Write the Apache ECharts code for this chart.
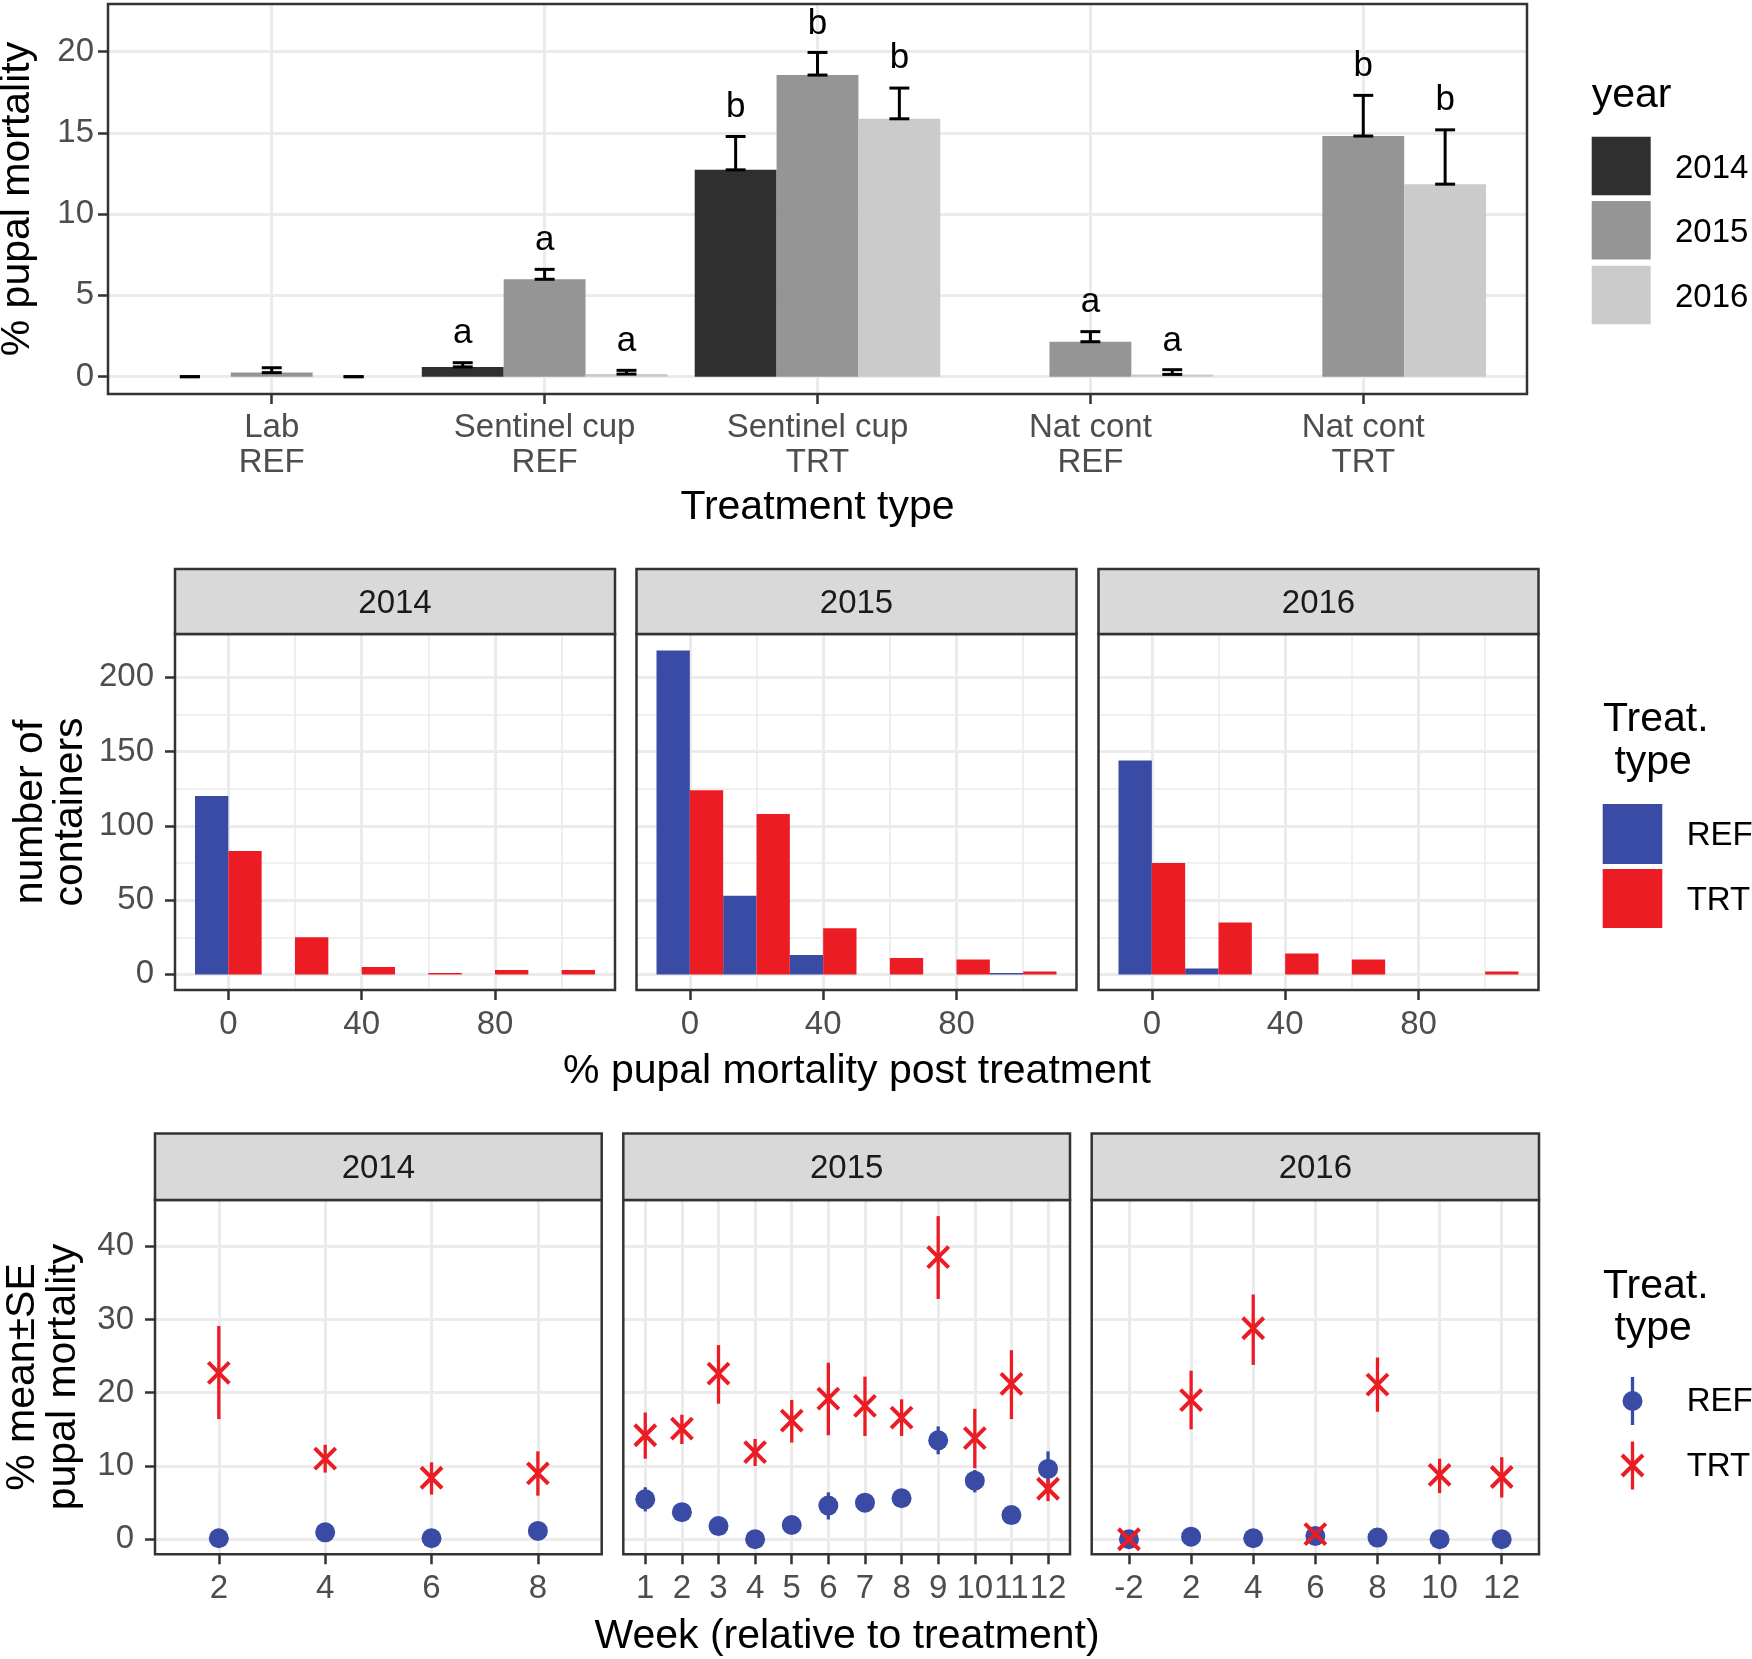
<!DOCTYPE html>
<html><head><meta charset="utf-8">
<script src="https://cdn.jsdelivr.net/npm/echarts@6.0.0/dist/echarts.min.js"></script>
<style>html,body{margin:0;padding:0;background:#fff}#c{width:1752px;height:1659px}</style>
</head><body><div id="c"></div>
<script>
// ---------------- DATA ----------------
// Panel A: mean % pupal mortality by treatment type and year (bar + upper SE)
const treatmentTypes = ['Lab\nREF', 'Sentinel cup\nREF', 'Sentinel cup\nTRT', 'Nat cont\nREF', 'Nat cont\nTRT'];
const barYears = ['2014', '2015', '2016'];
const barMean2014 = [0, 0.6, 12.72, null, null];
const barUpper2014 = [0, 0.86, 14.77, null, null];
const barMean2015 = [0.25, 5.99, 18.55, 2.15, 14.8];
const barUpper2015 = [0.55, 6.6, 19.94, 2.77, 17.3];
const barMean2016 = [0, 0.16, 15.86, 0.14, 11.84];
const barUpper2016 = [0, 0.39, 17.75, 0.43, 15.18];
const letters2014 = [null, 'a', 'b', null, null];
const letterPos2014 = [null, 2.64, 16.54, null, null];
const letters2015 = [null, 'a', 'b', 'a', 'b'];
const letterPos2015 = [null, 8.38, 21.67, 4.58, 19.1];
const letters2016 = [null, 'a', 'b', 'a', 'b'];
const letterPos2016 = [null, 2.17, 19.56, 2.18, 17.0];
const barTicks = [0, 5, 10, 15, 20];

// Panel B: histogram of containers by % pupal mortality (bins of width 20)
const histBins = [0, 20, 40, 60, 80, 100];
const histTicks = [0, 40, 80];
const histMinorTicks = [20, 60, 100];
const countTicks = [0, 50, 100, 150, 200];
const countMinorTicks = [25, 75, 125, 175];
const histRef2014 = [120, 0, 0, 0, 0, 0];
const histTrt2014 = [83, 25, 5, 1, 3, 3];
const histRef2015 = [218, 53, 13, 0, 0, 1];
const histTrt2015 = [124, 108, 31, 11, 10, 2];
const histRef2016 = [144, 4, 0, 0, 0, 0];
const histTrt2016 = [75, 35, 14, 10, 0, 2];

// Panel C: weekly mean ± SE % pupal mortality
const mortTicks = [0, 10, 20, 30, 40];
const weeks2014 = ['2', '4', '6', '8'];
const ref2014 = [0.14, 0.95, 0.14, 1.14];
const ref2014Lo = [null, null, null, null];
const ref2014Hi = [null, null, null, null];
const trt2014 = [22.7, 11.0, 8.4, 9.0];
const trt2014Lo = [16.4, 9.1, 6.1, 5.95];
const trt2014Hi = [29.1, 12.9, 10.5, 12.0];

const weeks2015 = ['1', '2', '3', '4', '5', '6', '7', '8', '9', '10', '11', '12'];
const ref2015 = [5.45, 3.7, 1.8, 0, 1.95, 4.6, 5.0, 5.6, 13.5, 8.0, 3.3, 9.6];
const ref2015Lo = [3.8, null, null, null, null, 2.7, null, null, 11.6, 6.4, null, 7.4];
const ref2015Hi = [7.1, null, null, null, null, 6.4, null, null, 15.4, 9.45, null, 12.0];
const trt2015 = [14.2, 15.1, 22.6, 11.9, 16.2, 19.2, 18.2, 16.6, 38.5, 13.8, 21.2, 6.9];
const trt2015Lo = [11.0, 13.0, 18.5, 10.0, 13.2, 14.2, 14.1, 14.1, 32.8, 9.7, 16.4, 5.2];
const trt2015Hi = [17.3, 17.0, 26.5, 13.7, 19.0, 24.1, 22.2, 19.1, 44.1, 17.8, 25.8, 8.3];

const weeks2016 = ['-2', '2', '4', '6', '8', '10', '12'];
const ref2016 = [0, 0.36, 0.14, 0.45, 0.23, 0, 0];
const ref2016Lo = [null, null, null, null, null, null, null];
const ref2016Hi = [null, null, null, null, null, null, null];
const trt2016 = [0, 19.0, 28.8, 0.7, 21.1, 8.8, 8.5];
const trt2016Lo = [null, 15.0, 23.8, null, 17.4, 6.3, 5.7];
const trt2016Hi = [null, 23.0, 33.4, null, 24.8, 11.0, 11.2];

// ---------------- STYLE ----------------
const FONT = "'Liberation Sans', Arial, Helvetica, sans-serif";
const GRID_COL = '#EBEBEB';
const DARK = '#333333';
const LABEL_COL = '#4D4D4D';
const BLUE = '#3A4BA6';
const RED = '#EC1C24';
const YEAR_COL = ['#2F2F2F', '#959595', '#CBCBCB'];
const STRIP_FILL = '#D9D9D9';

const grids = [], xAxes = [], yAxes = [], series = [], graphics = [];

function txt(x, y, text, size, color, extra) {
  return Object.assign({
    type: 'text', x: x, y: y, z: 120,
    style: { text: text, fontSize: size, fontFamily: FONT, fill: color,
      align: 'center', verticalAlign: 'middle', textAlign: 'center', textVerticalAlign: 'middle' }
  }, extra || {});
}

function addPanel(rect, xr, yr, xTicks, yTicks, o) {
  const gi = grids.length;
  grids.push({ left: rect[0], top: rect[1], width: rect[2], height: rect[3], containLabel: false });
  const xi = xAxes.length;
  xAxes.push({
    type: 'value', gridIndex: gi, min: xr[0], max: xr[1], position: 'bottom',
    axisLine: { show: false, onZero: false },
    axisTick: { show: true, customValues: xTicks, length: 10, lineStyle: { color: DARK, width: 2.5 } },
    axisLabel: { show: true, customValues: xTicks, formatter: o.xFmt, color: LABEL_COL, fontSize: 33,
      fontFamily: FONT, margin: o.xMargin, lineHeight: o.xLineHeight },
    splitLine: { show: true, lineStyle: { color: GRID_COL, width: 3 } }
  });
  if (o.xMinor) {
    xAxes.push({
      type: 'value', gridIndex: gi, min: xr[0], max: xr[1], position: 'top',
      axisLine: { show: false, onZero: false },
      axisTick: { show: false, customValues: o.xMinor },
      axisLabel: { show: false, customValues: o.xMinor },
      splitLine: { show: true, lineStyle: { color: GRID_COL, width: 1.6 } }
    });
  }
  const yi = yAxes.length;
  yAxes.push({
    type: 'value', gridIndex: gi, min: yr[0], max: yr[1], position: 'left',
    axisLine: { show: false, onZero: false },
    axisTick: { show: o.yLabels, customValues: yTicks, length: 10, lineStyle: { color: DARK, width: 2.5 } },
    axisLabel: { show: o.yLabels, customValues: yTicks, color: LABEL_COL, fontSize: 33, fontFamily: FONT, margin: o.yMargin || 21 },
    splitLine: { show: true, lineStyle: { color: GRID_COL, width: 3 } }
  });
  if (o.yMinor) {
    yAxes.push({
      type: 'value', gridIndex: gi, min: yr[0], max: yr[1], position: 'right',
      axisLine: { show: false, onZero: false },
      axisTick: { show: false, customValues: o.yMinor },
      axisLabel: { show: false, customValues: o.yMinor },
      splitLine: { show: true, lineStyle: { color: GRID_COL, width: 1.6 } }
    });
  }
  // panel border
  graphics.push({ type: 'rect', z: 110, shape: { x: rect[0], y: rect[1], width: rect[2], height: rect[3] },
    style: { fill: 'none', stroke: DARK, lineWidth: 2.5 } });
  if (o.strip) {
    const st = o.strip;
    graphics.push({ type: 'rect', z: 110, shape: { x: rect[0], y: st.top, width: rect[2], height: rect[1] - st.top },
      style: { fill: STRIP_FILL, stroke: DARK, lineWidth: 2.5 } });
    graphics.push(txt(rect[0] + rect[2] / 2, (st.top + rect[1]) / 2 + 2, st.text, 33, '#1A1A1A'));
  }
  return { xi: xi, yi: yi };
}

// ---------------- PANEL A ----------------
const pA = addPanel([108, 4, 1419, 390], [0.4, 5.6], [-1.065, 22.92],
  treatmentTypes.map((t, i) => i + 1), barTicks,
  { xFmt: v => treatmentTypes[Math.round(v) - 1], xMargin: 16, xLineHeight: 35.6, yLabels: true, yMargin: 14 });

function barSeries(means, uppers, letters, letterPos, color, offset) {
  const data = [];
  means.forEach((m, i) => { if (m != null) data.push([i + 1, m, uppers[i], i]); });
  return {
    type: 'custom', xAxisIndex: pA.xi, yAxisIndex: pA.yi, clip: false, data: data, z: 5,
    renderItem: function (params, api) {
      const x = api.value(0) + offset, m = api.value(1), u = api.value(2), idx = api.value(3);
      const tl = api.coord([x - 0.15, m]), br = api.coord([x + 0.15, 0]);
      const eb = api.coord([x, m]), et = api.coord([x, u]);
      const cap = api.size([0.073, 0])[0] / 2;
      const ls = { stroke: '#000', lineWidth: 3 };
      const ch = [
        { type: 'rect', shape: { x: tl[0], y: tl[1], width: br[0] - tl[0], height: br[1] - tl[1] }, style: { fill: color } },
        { type: 'line', shape: { x1: eb[0], y1: eb[1], x2: et[0], y2: et[1] }, style: ls },
        { type: 'line', shape: { x1: eb[0] - cap, y1: eb[1], x2: eb[0] + cap, y2: eb[1] }, style: ls },
        { type: 'line', shape: { x1: et[0] - cap, y1: et[1], x2: et[0] + cap, y2: et[1] }, style: ls }
      ];
      if (letters[idx]) {
        const lp = api.coord([x, letterPos[idx]]);
        ch.push({ type: 'text', x: lp[0], y: lp[1], style: { text: letters[idx], fill: '#000', fontSize: 35, fontFamily: FONT,
          align: 'center', verticalAlign: 'middle', textAlign: 'center', textVerticalAlign: 'middle' } });
      }
      return { type: 'group', children: ch };
    }
  };
}
series.push(barSeries(barMean2014, barUpper2014, letters2014, letterPos2014, YEAR_COL[0], -0.3));
series.push(barSeries(barMean2015, barUpper2015, letters2015, letterPos2015, YEAR_COL[1], 0));
series.push(barSeries(barMean2016, barUpper2016, letters2016, letterPos2016, YEAR_COL[2], 0.3));

// ---------------- PANEL B ----------------
const histSets = [
  { year: '2014', ref: histRef2014, trt: histTrt2014 },
  { year: '2015', ref: histRef2015, trt: histTrt2015 },
  { year: '2016', ref: histRef2016, trt: histTrt2016 }
];
const histLefts = [175, 636.5, 1098.5];
function histSeries(ax, counts, color, side) {
  const data = [];
  histBins.forEach((b, i) => { if (counts[i] > 0) data.push([b, counts[i]]); });
  return {
    type: 'custom', xAxisIndex: ax.xi, yAxisIndex: ax.yi, data: data, z: 5,
    renderItem: function (params, api) {
      const b = api.value(0), c = api.value(1);
      const x0 = side < 0 ? b - 10 : b, x1 = side < 0 ? b : b + 10;
      const p0 = api.coord([x0, c]), p1 = api.coord([x1, 0]);
      return { type: 'rect', shape: { x: p0[0], y: p0[1], width: p1[0] - p0[0], height: p1[1] - p0[1] }, style: { fill: color } };
    }
  };
}
histSets.forEach((h, k) => {
  const ax = addPanel([histLefts[k], 634, 440, 356], [-16, 116], [-10.5, 229.1], histTicks, countTicks,
    { xMargin: 18.5, xLineHeight: 33, yLabels: k === 0, xMinor: histMinorTicks, yMinor: countMinorTicks,
      strip: { top: 569, text: h.year } });
  series.push(histSeries(ax, h.ref, BLUE, -1));
  series.push(histSeries(ax, h.trt, RED, 1));
});

// ---------------- PANEL C ----------------
const weekSets = [
  { year: '2014', weeks: weeks2014, ref: ref2014, refLo: ref2014Lo, refHi: ref2014Hi, trt: trt2014, trtLo: trt2014Lo, trtHi: trt2014Hi },
  { year: '2015', weeks: weeks2015, ref: ref2015, refLo: ref2015Lo, refHi: ref2015Hi, trt: trt2015, trtLo: trt2015Lo, trtHi: trt2015Hi },
  { year: '2016', weeks: weeks2016, ref: ref2016, refLo: ref2016Lo, refHi: ref2016Hi, trt: trt2016, trtLo: trt2016Lo, trtHi: trt2016Hi }
];
const weekRects = [[155, 446.7], [623.3, 446.7], [1091.7, 447.3]];
const X_PATH = 'path://M0,0L10,10M10,0L0,10';
function errSeries(ax, lo, hi, color) {
  const data = [];
  lo.forEach((l, i) => { if (l != null) data.push([i + 1, l, hi[i]]); });
  return {
    type: 'custom', xAxisIndex: ax.xi, yAxisIndex: ax.yi, data: data, z: 5,
    renderItem: function (params, api) {
      const a = api.coord([api.value(0), api.value(1)]), b = api.coord([api.value(0), api.value(2)]);
      return { type: 'line', shape: { x1: a[0], y1: a[1], x2: b[0], y2: b[1] }, style: { stroke: color, lineWidth: 3.3 } };
    }
  };
}
weekSets.forEach((w, k) => {
  const n = w.weeks.length;
  const ax = addPanel([weekRects[k][0], 1200, weekRects[k][1], 354.3], [0.4, n + 0.6], [-2.05, 46.3],
    w.weeks.map((s, i) => i + 1), mortTicks,
    { xFmt: v => w.weeks[Math.round(v) - 1], xMargin: 18.5, xLineHeight: 33, yLabels: k === 0,
      strip: { top: 1133.5, text: w.year } });
  series.push(errSeries(ax, w.refLo, w.refHi, BLUE));
  series.push(errSeries(ax, w.trtLo, w.trtHi, RED));
  series.push({ type: 'scatter', xAxisIndex: ax.xi, yAxisIndex: ax.yi, z: 6, symbol: 'circle', symbolSize: 20,
    itemStyle: { color: BLUE, opacity: 1 }, data: w.ref.map((v, i) => [i + 1, v]) });
  series.push({ type: 'scatter', xAxisIndex: ax.xi, yAxisIndex: ax.yi, z: 7, symbol: X_PATH, symbolSize: 21,
    itemStyle: { color: 'none', borderColor: RED, borderWidth: 4, opacity: 1 }, data: w.trt.map((v, i) => [i + 1, v]) });
});

// ---------------- TITLES ----------------
const ROT = Math.PI / 2;
graphics.push(txt(18, 199, '% pupal mortality', 41, '#000', { rotation: ROT }));
graphics.push(txt(817.5, 508, 'Treatment type', 41, '#000'));
graphics.push(txt(31, 812, 'number of', 41, '#000', { rotation: ROT }));
graphics.push(txt(71, 812, 'containers', 41, '#000', { rotation: ROT }));
graphics.push(txt(857, 1072, '% pupal mortality post treatment', 41, '#000'));
graphics.push(txt(23, 1377, '% mean\u00B1SE', 41, '#000', { rotation: ROT }));
graphics.push(txt(64, 1377, 'pupal mortality', 41, '#000', { rotation: ROT }));
graphics.push(txt(847, 1637, 'Week (relative to treatment)', 41, '#000'));

// ---------------- LEGENDS ----------------
function ltxt(x, y, text, size) {
  return { type: 'text', x: x, y: y, z: 120,
    style: { text: text, fontSize: size, fontFamily: FONT, fill: '#000', align: 'left', verticalAlign: 'middle',
      textAlign: 'left', textVerticalAlign: 'middle' } };
}
// year legend
graphics.push(ltxt(1591.7, 96, 'year', 41));
const yearKeyTops = [136.7, 201, 265.7];
barYears.forEach((y, i) => {
  graphics.push({ type: 'rect', z: 120, shape: { x: 1591.7, y: yearKeyTops[i], width: 59, height: 58.5 }, style: { fill: YEAR_COL[i] } });
  graphics.push(ltxt(1675, yearKeyTops[i] + 32, y, 33));
});
// treat type legend (fill)
graphics.push(ltxt(1603, 720, 'Treat.', 41));
graphics.push(ltxt(1603, 763, ' type', 41));
graphics.push({ type: 'rect', z: 120, shape: { x: 1602.7, y: 804, width: 59.6, height: 60 }, style: { fill: BLUE } });
graphics.push({ type: 'rect', z: 120, shape: { x: 1602.7, y: 869, width: 59.6, height: 59 }, style: { fill: RED } });
graphics.push(ltxt(1686.7, 836, 'REF', 33));
graphics.push(ltxt(1686.7, 900.7, 'TRT', 33));
// treat type legend (pointrange)
graphics.push(ltxt(1603, 1286.3, 'Treat.', 41));
graphics.push(ltxt(1603, 1329, ' type', 41));
const kx = 1632.5, k1 = 1401, k2 = 1465.5;
graphics.push({ type: 'line', z: 120, shape: { x1: kx, y1: k1 - 24, x2: kx, y2: k1 + 24 }, style: { stroke: BLUE, lineWidth: 3.3 } });
graphics.push({ type: 'circle', z: 121, shape: { cx: kx, cy: k1, r: 10 }, style: { fill: BLUE } });
graphics.push({ type: 'line', z: 120, shape: { x1: kx, y1: k2 - 24, x2: kx, y2: k2 + 24 }, style: { stroke: RED, lineWidth: 3.3 } });
graphics.push({ type: 'line', z: 121, shape: { x1: kx - 10.5, y1: k2 - 10.5, x2: kx + 10.5, y2: k2 + 10.5 }, style: { stroke: RED, lineWidth: 4 } });
graphics.push({ type: 'line', z: 121, shape: { x1: kx + 10.5, y1: k2 - 10.5, x2: kx - 10.5, y2: k2 + 10.5 }, style: { stroke: RED, lineWidth: 4 } });
graphics.push(ltxt(1686.7, k1 + 1, 'REF', 33));
graphics.push(ltxt(1686.7, k2 + 1, 'TRT', 33));

const chart = echarts.init(document.getElementById('c'), null, { renderer: 'canvas' });
chart.setOption({
  animation: false,
  backgroundColor: '#fff',
  textStyle: { fontFamily: FONT },
  grid: grids,
  xAxis: xAxes,
  yAxis: yAxes,
  series: series,
  graphic: { elements: graphics }
});
</script>
</body></html>
